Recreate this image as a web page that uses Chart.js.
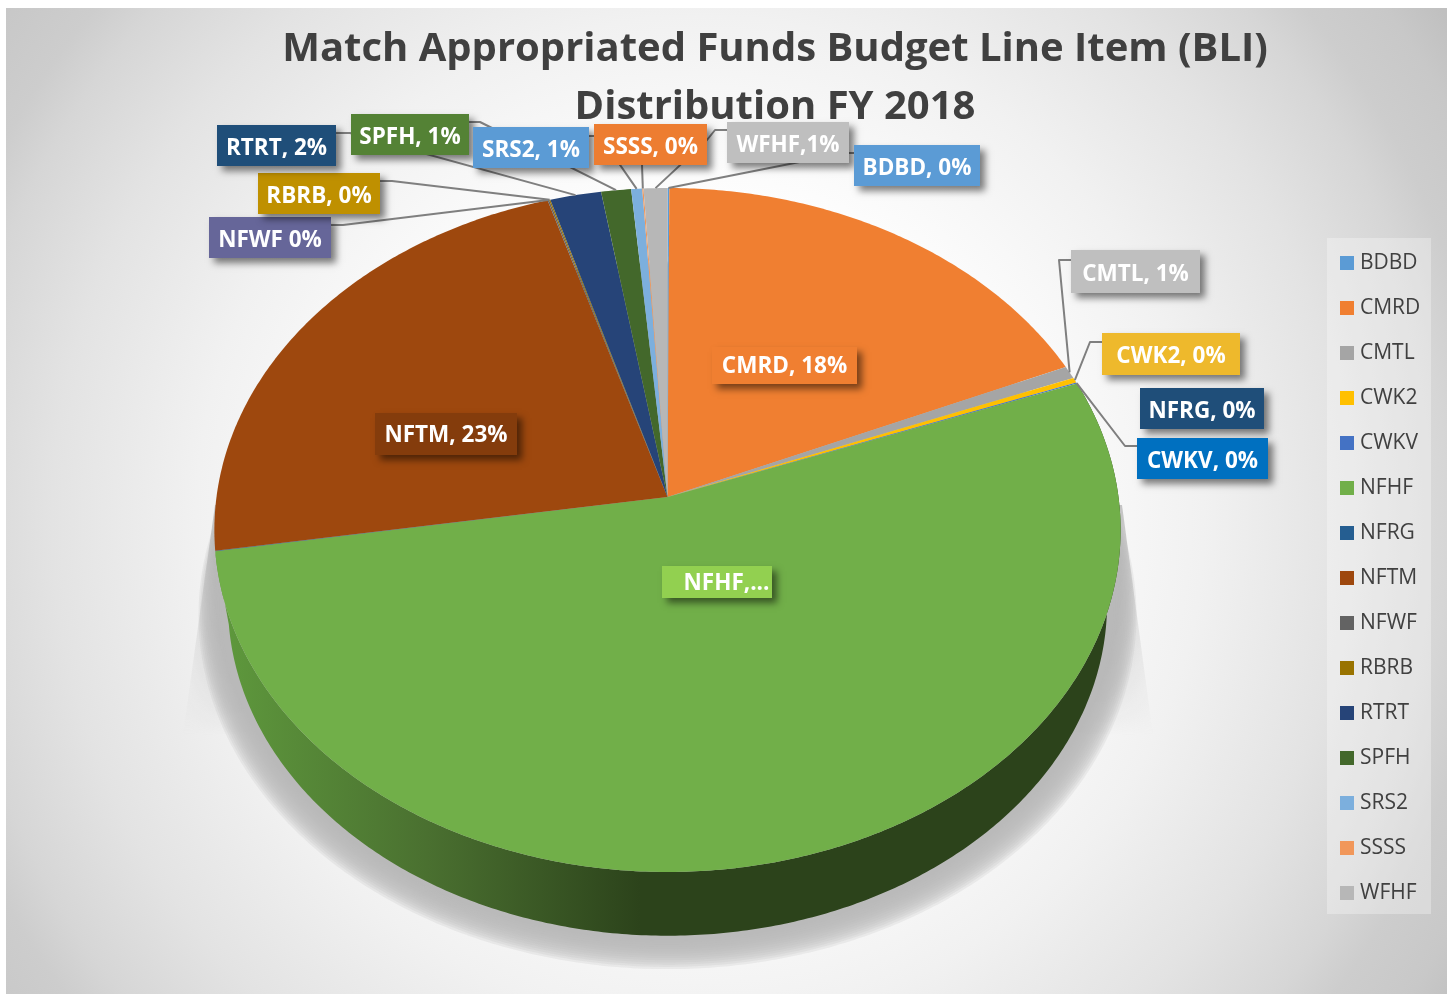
<!DOCTYPE html>
<html>
<head>
<meta charset="utf-8">
<style>html,body{margin:0;padding:0;background:#fff}canvas{display:block}</style>
<script src="https://cdn.jsdelivr.net/npm/chart.js@4/dist/chart.umd.min.js"></script>
</head>
<body>
<div style="width:1453px;height:996px;position:relative"><canvas id="c"></canvas></div>
<script>
const categories = ['BDBD','CMRD','CMTL','CWK2','CWKV','NFHF','NFRG','NFTM','NFWF','RBRB','RTRT','SPFH','SRS2','SSSS','WFHF'];
const values = [0.07,18.4,0.6,0.25,0.05,53.1,0.02,22.8,0.06,0.05,2.0,1.17,0.43,0.05,0.93];
const sliceColors = ['#5b9bd5','#f07f31','#a5a5a5','#ffc000','#4472c4','#71af49','#255e91','#9e480e','#636363','#997300','#264478','#43682b','#7cafdd','#f1975a','#b7b7b7'];
const titleLines = ['Match Appropriated Funds Budget Line Item (BLI)','Distribution FY 2018'];
const labelTexts = {BDBD:'BDBD, 0%',CMRD:'CMRD, 18%',CMTL:'CMTL, 1%',CWK2:'CWK2, 0%',CWKV:'CWKV, 0%',NFHF:'NFHF,...',NFRG:'NFRG, 0%',NFTM:'NFTM, 23%',NFWF:'NFWF 0%',RBRB:'RBRB, 0%',RTRT:'RTRT, 2%',SPFH:'SPFH, 1%',SRS2:'SRS2, 1%',SSSS:'SSSS, 0%',WFHF:'WFHF,1%'};

// callout layout: box [x0,y0,x1,y1], fill, leader start / elbow, text nudges
const callouts = {
  RTRT:{box:[217,125,336,166],fill:'#1f4e79',lead:[[336,133],[350,133]]},
  SPFH:{box:[351,114,469,155],fill:'#548235',lead:[[469,122],[480,122],[490,127]]},
  SRS2:{box:[473,127,589,168],fill:'#5b9bd5',lead:[[589,136],[600,136]]},
  SSSS:{box:[594,124,707,165],fill:'#ed7d31',lead:[[642,165]]},
  WFHF:{box:[727,122,849,163],fill:'#bfbfbf',lead:[[727,130],[715,130],[707,140]]},
  BDBD:{box:[854,145,980,186],fill:'#5b9bd5',lead:[[854,153],[845,153]]},
  RBRB:{box:[258,173,380,214],fill:'#bf9000',lead:[[380,181],[392,181]]},
  NFWF:{box:[209,217,331,258],fill:'#666699',lead:[[331,225],[343,225]]},
  CMTL:{box:[1071,250,1200,293],fill:'#bfbfbf',lead:[[1071,260],[1059,260]]},
  CWK2:{box:[1102,333,1240,375],fill:'#eeb92c',lead:[[1102,342],[1090,342]]},
  NFRG:{box:[1140,388,1264,429],fill:'#1f4e79',lead:null},
  CWKV:{box:[1137,438,1268,479],fill:'#0070c0',lead:[[1137,446],[1125,446]]},
  CMRD:{box:[712,347,857,384],fill:'#f07f31',lead:null,ty:1},
  NFTM:{box:[375,413,517,455],fill:'#843c0c',lead:null,ty:2},
  NFHF:{box:[662,566,772,598],fill:'#92d050',lead:null,ty:2,tx:9.5}
};
const FONT = '"Open Sans", "Noto Sans", sans-serif';

// perspective projection of the pie's disc
const P = {cx:667.5, cy:497, a:451, b:338.8, k:-0.0965};
function project(angle, r, s, dy){
  const x = Math.cos(angle)*r, y = Math.sin(angle)*r;
  const w = 1 + P.k*y;
  return [P.cx + s*P.a*x/w, P.cy + dy + s*P.b*y/w];
}
function traceArc(ctx, a0, a1, s, dy, first){
  const n = Math.max(2, Math.ceil(Math.abs(a1-a0)/0.01));
  for(let i=0;i<=n;i++){
    const p = project(a0+(a1-a0)*i/n, 1, s, dy);
    if(i===0 && first) ctx.moveTo(p[0],p[1]); else ctx.lineTo(p[0],p[1]);
  }
}
function groundWedges(ctx){
  const off = document.createElement('canvas');
  off.width = 1453; off.height = 996;
  const o = off.getContext('2d');
  const wedge = (edgeTop,edgeBot,inner,gx0,gx1)=>{
    const g = o.createLinearGradient(gx0,0,gx1,0);
    g.addColorStop(0,'rgba(178,178,178,0.25)'); g.addColorStop(1,'rgba(178,178,178,1)');
    o.fillStyle = g;
    o.beginPath(); o.moveTo(edgeTop,505); o.lineTo(edgeBot,735); o.lineTo(inner,735); o.lineTo(inner,505); o.closePath(); o.fill();
  };
  wedge(215,183,300,190,228);
  wedge(1122,1153,1030,1150,1105);
  o.globalCompositeOperation = 'destination-in';
  const v = o.createLinearGradient(0,560,0,735);
  v.addColorStop(0,'rgba(0,0,0,1)'); v.addColorStop(1,'rgba(0,0,0,0)');
  o.fillStyle = v; o.fillRect(0,0,1453,996);
  ctx.drawImage(off,0,0);
}
const perspectivePie = {
  id:'perspectivePie',
  afterLayout(chart){
    const lg = chart.legend;
    lg.left = 1320.5; lg.right = lg.left + lg.width;
    lg.top = 228.5; lg.bottom = lg.top + lg.height;
    const t = chart.titleBlock;
    t.left = 0; t.right = 1550; t.top = 21; t.bottom = t.top + t.height;
  },
  beforeDraw(chart){
    const ctx = chart.ctx;
    ctx.save();
    ctx.fillStyle = '#ffffff';
    ctx.fillRect(0,0,chart.width,chart.height);
    const g = ctx.createRadialGradient(700,520,0,700,520,900);
    [[0,'#ffffff'],[0.33,'#ffffff'],[0.45,'#f8f8f8'],[0.56,'#f1f1f1'],[0.72,'#e3e3e3'],[0.78,'#dcdcdc'],[0.83,'#d6d6d6'],[0.88,'#cdcdcd'],[0.95,'#c8c8c8'],[1,'#c0c0c0']]
      .forEach(s=>g.addColorStop(s[0],s[1]));
    ctx.fillStyle = g;
    ctx.fillRect(6,8,1441,986);
    // legend panel
    ctx.fillStyle = 'rgba(255,255,255,0.3)';
    ctx.fillRect(1327,238,104,676);
    ctx.restore();
  },
  beforeDatasetDraw(chart){
    const ctx = chart.ctx;
    const arcs = chart.getDatasetMeta(0).data;
    const hf = arcs[categories.indexOf('NFHF')];
    ctx.save();
    groundWedges(ctx);
    // ground shadow: soft-edged disc built from nested translucent layers
    const layers = 14;
    ctx.fillStyle = 'rgba(184,184,184,0.2)';
    for(let i=0;i<layers;i++){
      const f = i/(layers-1);
      ctx.beginPath();
      traceArc(ctx, 0, Math.PI*2, 1.035-0.05*f, 84-10*f, true);
      ctx.closePath(); ctx.fill();
    }
    // side wall
    const g = ctx.createLinearGradient(215,0,640,0);
    g.addColorStop(0,'#5f9a3d'); g.addColorStop(0.5,'#4a7030'); g.addColorStop(1,'#2c431b');
    ctx.fillStyle = g;
    ctx.beginPath();
    traceArc(ctx, hf.startAngle, hf.endAngle, 1, 0, true);
    traceArc(ctx, hf.endAngle, hf.startAngle, 0.97, 75, false);
    ctx.closePath(); ctx.fill();
    // top face, slice by slice from the arc elements' angles
    arcs.forEach((arc,i)=>{
      ctx.fillStyle = sliceColors[i];
      ctx.beginPath();
      ctx.moveTo(P.cx,P.cy);
      traceArc(ctx, arc.startAngle, arc.endAngle, 1, 0, false);
      ctx.closePath(); ctx.fill();
    });
    ctx.restore();
    return false;
  },
  afterDatasetsDraw(chart){
    const ctx = chart.ctx;
    const arcs = chart.getDatasetMeta(0).data;
    ctx.save();
    // leader lines
    ctx.strokeStyle = '#7f7f7f'; ctx.lineWidth = 2; ctx.lineJoin = 'round';
    categories.forEach((name,i)=>{
      const c = callouts[name];
      if(!c.lead) return;
      const end = project((arcs[i].startAngle+arcs[i].endAngle)/2, 1, 1, 0);
      ctx.beginPath();
      c.lead.forEach((p,j)=> j? ctx.lineTo(p[0],p[1]) : ctx.moveTo(p[0],p[1]));
      ctx.lineTo(end[0],end[1]);
      ctx.stroke();
    });
    // boxes & text (later names overlap earlier ones as in the source)
    ['NFRG','CWKV','CWK2','CMTL','NFWF','RBRB','RTRT','SPFH','SRS2','SSSS','WFHF','BDBD','CMRD','NFTM','NFHF'].forEach(name=>{
      const c = callouts[name], b = c.box;
      ctx.save();
      ctx.shadowColor = 'rgba(0,0,0,0.5)'; ctx.shadowBlur = 7; ctx.shadowOffsetX = 5; ctx.shadowOffsetY = 5;
      ctx.fillStyle = c.fill;
      ctx.fillRect(b[0],b[1],b[2]-b[0],b[3]-b[1]);
      ctx.restore();
      ctx.fillStyle = '#ffffff';
      ctx.font = 'bold 22.5px ' + FONT;
      ctx.textAlign = 'center'; ctx.textBaseline = 'middle';
      ctx.fillText(labelTexts[name], (b[0]+b[2])/2 + (c.tx||0), (b[1]+b[3])/2 + (c.ty===undefined?3:c.ty));
    });
    ctx.restore();
  }
};

new Chart(document.getElementById('c'),{
  type:'pie',
  data:{labels:categories,datasets:[{data:values,backgroundColor:sliceColors,borderWidth:0}]},
  plugins:[perspectivePie],
  options:{
    responsive:true,maintainAspectRatio:false,animation:false,
    layout:{padding:{top:10,right:22,bottom:40,left:200}},
    plugins:{
      tooltip:{enabled:false},
      title:{display:true,text:titleLines,color:'#404040',align:'center',
        font:{family:FONT,size:40,weight:'bold',lineHeight:1.45},padding:0},
      legend:{display:true,position:'right',align:'start',
        labels:{color:'#404040',font:{family:FONT,size:21,lineHeight:1.2},padding:24,boxWidth:5,boxHeight:5,
          generateLabels(chart){
            return Chart.overrides.doughnut.plugins.legend.labels.generateLabels(chart).map(l=>Object.assign(l,{strokeStyle:l.fillStyle,lineWidth:9}));
          }}}
    }
  }
});
</script>
</body>
</html>
